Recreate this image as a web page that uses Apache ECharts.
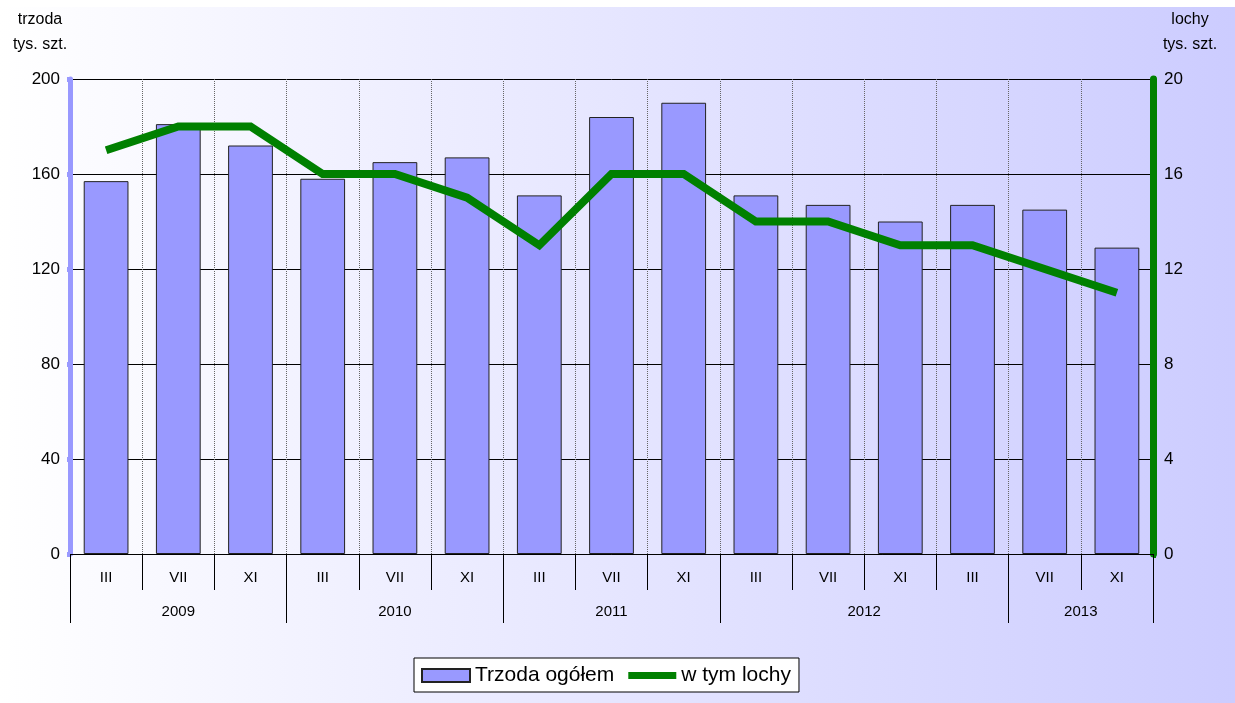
<!DOCTYPE html>
<html>
<head>
<meta charset="utf-8">
<script src="https://cdn.jsdelivr.net/npm/echarts@6/dist/echarts.min.js"></script>
<style>
  html, body { margin: 0; padding: 0; background: #fff; }
  #chart { width: 1235px; height: 696px; margin-top: 7px; }
</style>
</head>
<body>
<div id="chart"></div>
<script>
const months = ["III", "VII", "XI", "III", "VII", "XI", "III", "VII", "XI", "III", "VII", "XI", "III", "VII", "XI"];
const trzoda = [157, 181, 172, 158, 165, 167, 151, 184, 190, 151, 147, 140, 147, 145, 129];
const lochy = [17, 18, 18, 16, 16, 15, 13, 16, 16, 14, 14, 13, 13, 12, 11];
// rok: granice grup i srodki etykiet (w jednostkach kategorii)
const years = ["2009", "2010", "2011", "2012", "2013"];
const yearMid = [1.5, 4.5, 7.5, 11, 14];
const yearBounds = [0, 3, 6, 9, 13, 15];

const FONT = "Liberation Sans, Arial, sans-serif";

const option = {
  backgroundColor: {
    type: "linear",
    x: 0, y: 0, x2: 1, y2: 0,
    colorStops: [
      { offset: 0, color: "#ffffff" },
      { offset: 1, color: "#ccccff" },
    ],
  },
  animation: false,
  textStyle: { fontFamily: FONT },
  grid: {
    left: 70,
    right: 82,
    top: 71,
    bottom: 149,
  },
  legend: {
    left: 414,
    top: 651,
    padding: [7, 8, 6, 7],
    backgroundColor: "#fff",
    borderColor: "#000",
    borderWidth: 1,
    borderRadius: 0,
    itemWidth: 48,
    itemHeight: 13,
    itemGap: 14,
    textStyle: { fontSize: 21, color: "#000", fontFamily: FONT },
    data: [
      { name: "Trzoda ogółem", icon: "rect" },
      { name: "w tym lochy", icon: "path://M0,0 H48 V7 H0 Z" },
    ],
  },
  xAxis: [
    {
      type: "category",
      data: months,
      boundaryGap: true,
      axisLine: { lineStyle: { color: "#000", width: 1 } },
      axisTick: { show: true, length: 36, lineStyle: { color: "#000" } },
      axisLabel: { color: "#000", fontSize: 15, margin: 16, fontFamily: FONT },
      splitLine: {
        show: true,
        lineStyle: { color: "#666", type: "dotted", width: 1 },
      },
    },
    {
      type: "value",
      min: 0,
      max: 15,
      position: "bottom",
      axisLine: { show: false },
      axisTick: {
        show: true,
        length: 69,
        customValues: yearBounds,
        lineStyle: { color: "#000" },
      },
      axisLabel: {
        color: "#000",
        fontSize: 15,
        margin: 50,
        fontFamily: FONT,
        customValues: yearMid,
        formatter: (v) => years[yearMid.indexOf(v)] || "",
      },
      splitLine: { show: false },
    },
  ],
  yAxis: [
    {
      type: "value",
      min: 0,
      max: 200,
      interval: 40,
      name: "trzoda\ntys. szt.",
      nameLocation: "end",
      nameGap: 22,
      nameTextStyle: {
        color: "#000",
        fontSize: 16,
        lineHeight: 25,
        align: "center",
        padding: [0, 60, 0, 0],
        fontFamily: FONT,
      },
      axisLine: { show: true, lineStyle: { color: "#9999ff", width: 5 } },
      axisTick: { show: true, length: 3, lineStyle: { color: "#9999ff", width: 5 } },
      axisLabel: { color: "#000", fontSize: 17, margin: 10, fontFamily: FONT },
      splitLine: { show: true, lineStyle: { color: "#000", width: 1 } },
    },
    {
      type: "value",
      min: 0,
      max: 20,
      interval: 4,
      position: "right",
      name: "lochy\ntys. szt.",
      nameLocation: "end",
      nameGap: 22,
      nameTextStyle: {
        color: "#000",
        fontSize: 16,
        lineHeight: 25,
        align: "center",
        padding: [0, 0, 0, 74],
        fontFamily: FONT,
      },
      axisLine: { show: true, lineStyle: { color: "#008000", width: 7 } },
      axisTick: { show: true, length: 3, lineStyle: { color: "#008000", width: 7 } },
      axisLabel: { color: "#000", fontSize: 17, margin: 11, fontFamily: FONT },
      splitLine: { show: false },
    },
  ],
  series: [
    {
      name: "Trzoda ogółem",
      type: "bar",
      xAxisIndex: 0,
      yAxisIndex: 0,
      data: trzoda,
      barCategoryGap: "38%",
      itemStyle: { color: "#9999ff", borderColor: "#222", borderWidth: 1 },
    },
    {
      name: "w tym lochy",
      type: "line",
      xAxisIndex: 0,
      yAxisIndex: 1,
      data: lochy,
      symbol: "none",
      z: 5,
      lineStyle: { color: "#008000", width: 8, join: "miter" },
      itemStyle: { color: "#008000" },
    },
  ],
};

const chart = echarts.init(document.getElementById("chart"));
chart.setOption(option);
</script>
</body>
</html>
